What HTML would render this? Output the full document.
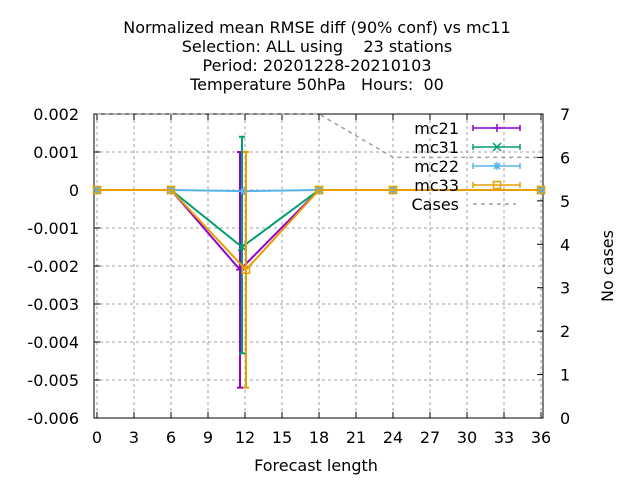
<!DOCTYPE html>
<html><head><meta charset="utf-8"><style>
body{margin:0;background:#fff}
svg{font-family:"DejaVu Sans","Liberation Sans",sans-serif;display:block}
text{white-space:pre}
</style></head><body>
<svg width="640" height="480">
<g id="g"></g>
</svg>
<script>
const hours=[0,6,12,18,24,36];
const mc21=[0,0,-0.0021,0,0,0];
const mc21Lo=[0,0,-0.0052,0,0,0];
const mc21Hi=[0,0,0.001,0,0,0];
const mc31=[0,0,-0.0015,0,0,0];
const mc31Lo=[0,0,-0.0043,0,0,0];
const mc31Hi=[0,0,0.0014,0,0,0];
const mc22=[0,0,-0.00003,0,0,0];
const mc22Lo=[0,0,-0.00006,0,0,0];
const mc22Hi=[0,0,0,0,0,0];
const mc33=[0,0,-0.0021,0,0,0];
const mc33Lo=[0,0,-0.0052,0,0,0];
const mc33Hi=[0,0,0.001,0,0,0];
const caseHours=[0,18,24,36];
const cases=[7,7,6,6];
const xTicks=[0,3,6,9,12,15,18,21,24,27,30,33,36];
const yTicks=[0.002,0.001,0,-0.001,-0.002,-0.003,-0.004,-0.005,-0.006];
const yTickLabels=["0.002","0.001","0","-0.001","-0.002","-0.003","-0.004","-0.005","-0.006"];
const y2Ticks=[0,1,2,3,4,5,6,7];

const FS=16;
const L=94,R=543,T=114,B=418;
const X=h=>97+h*(541-97)/36;
const Y=v=>T+(0.002-v)/0.008*(B-T);
const Y2=c=>B-c/7*(B-T);
const g=document.getElementById('g');
const NS='http://www.w3.org/2000/svg';
function mk(t,a,txt){const e=document.createElementNS(NS,t);for(const k in a)e.setAttribute(k,a[k]);if(txt!==undefined)e.textContent=txt;g.appendChild(e);return e;}
const titles=["Normalized mean RMSE diff (90% conf) vs mc11","Selection: ALL using    23 stations","Period: 20201228-20210103","Temperature 50hPa   Hours:  00"];
titles.forEach((s,i)=>{const e=mk('text',{x:317,y:33+i*19,'text-anchor':'middle','font-size':FS},s);

});
xTicks.forEach(h=>{const e=mk('line',{x1:X(h),x2:X(h),y1:T,y2:B,stroke:'#a0a0a0','stroke-dasharray':'3,3'});


const t=mk('text',{x:X(h),y:443,'text-anchor':'middle','font-size':FS},String(h));


mk('line',{x1:X(h),x2:X(h),y1:B,y2:B-6,stroke:'#000'});mk('line',{x1:X(h),x2:X(h),y1:T,y2:T+6,stroke:'#000'});});
yTicks.forEach((v,i)=>{const e=mk('line',{x1:L,x2:R,y1:Y(v),y2:Y(v),stroke:'#a0a0a0','stroke-dasharray':'3,3'});


const t=mk('text',{x:79,y:Y(v)+6,'text-anchor':'end','font-size':FS},yTickLabels[i]);


mk('line',{x1:L,x2:L+6,y1:Y(v),y2:Y(v),stroke:'#000'});});
y2Ticks.forEach(c=>{const t=mk('text',{x:560,y:Y2(c)+6,'font-size':FS},String(c));


mk('line',{x1:R,x2:R-6,y1:Y2(c),y2:Y2(c),stroke:'#000'});});
const box=mk('rect',{x:L,y:T,width:R-L,height:B-T,fill:'none',stroke:'#000'});


let t=mk('text',{x:316,y:471,'text-anchor':'middle','font-size':FS},'Forecast length');


t=mk('text',{x:613,y:266,'text-anchor':'middle','font-size':FS,transform:'rotate(-90 613 266)'},'No cases');


let cp=caseHours.map((h,i)=>X(h)+','+Y2(cases[i])).join(' ');
const cl=mk('polyline',{points:cp,fill:'none',stroke:'#a0a0a0','stroke-width':1.5,'stroke-dasharray':'4,4'});


function marker(type,x,y,c){
 if(type==='plus'){mk('path',{d:`M${x-4} ${y}h8M${x} ${y-4}v8`,stroke:c,'stroke-width':1.5});}
 else if(type==='x'){mk('path',{d:`M${x-4} ${y-4}l8 8M${x-4} ${y+4}l8 -8`,stroke:c,'stroke-width':1.5});}
 else if(type==='star'){mk('path',{d:`M${x-4} ${y}h8M${x} ${y-4}v8M${x-3} ${y-3}l6 6M${x-3} ${y+3}l6 -6`,stroke:c,'stroke-width':1.5});}
 else mk('rect',{x:x-3.5,y:y-3.5,width:7,height:7,fill:'none',stroke:c,'stroke-width':1.5});
}
const series=[
 {name:'mc21',v:mc21,lo:mc21Lo,hi:mc21Hi,c:'#9400d3',m:'plus',off:-5},
 {name:'mc31',v:mc31,lo:mc31Lo,hi:mc31Hi,c:'#009e73',m:'x',off:-3},
 {name:'mc22',v:mc22,lo:mc22Lo,hi:mc22Hi,c:'#56b4e9',m:'star',off:-1},
 {name:'mc33',v:mc33,lo:mc33Lo,hi:mc33Hi,c:'#e69f00',m:'box',off:1}];
series.forEach((s,si)=>{
 const pts=hours.map((h,i)=>(X(h)+(h===12?s.off:0))+','+Y(s.v[i])).join(' ');
 const pl=mk('polyline',{points:pts,fill:'none',stroke:s.c,'stroke-width':2});
 
 
 hours.forEach((h,i)=>{const x=X(h)+(h===12?s.off:0);
  if(s.hi[i]!==s.lo[i]){mk('path',{d:`M${x} ${Y(s.lo[i])}V${Y(s.hi[i])}M${x-3} ${Y(s.lo[i])}h6M${x-3} ${Y(s.hi[i])}h6`,stroke:s.c,'stroke-width':2});}
  marker(s.m,x,Y(s.v[i]),s.c);});
 const ly=128+si*19;
 const lt=mk('text',{x:459,y:ly+6,'text-anchor':'end','font-size':FS},s.name);
 
 
 mk('path',{d:`M473 ${ly}H520M473 ${ly-3}v6M520 ${ly-3}v6`,stroke:s.c,'stroke-width':1.5});
 marker(s.m,497,ly,s.c);
});
t=mk('text',{x:459,y:210,'text-anchor':'end','font-size':FS},'Cases');


mk('line',{x1:473,x2:516,y1:204,y2:204,stroke:'#a0a0a0','stroke-width':1.5,'stroke-dasharray':'4,4'});
</script>
</body></html>
